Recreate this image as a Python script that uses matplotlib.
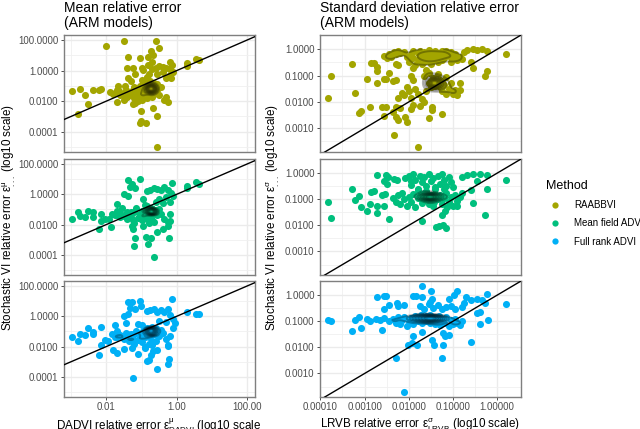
import matplotlib
matplotlib.use('Agg')
import matplotlib.pyplot as plt
from matplotlib.lines import Line2D
from matplotlib.ticker import MaxNLocator, NullFormatter
import numpy as np

plt.rcParams['font.family'] = ['Liberation Sans', 'DejaVu Sans']
plt.rcParams['mathtext.fontset'] = 'custom'
plt.rcParams['mathtext.rm'] = 'Liberation Sans'
plt.rcParams['mathtext.it'] = 'Liberation Sans'
plt.rcParams['mathtext.default'] = 'regular'

# Data, log10 of the errors
methods = ['RAABBVI', 'Mean field ADVI', 'Full rank ADVI']
colors = ['#A3A500', '#00BF7D', '#00B0F6']

mean_rbv_x = [-2.98, -2.76, -2.61, -2.51, -2.80, -2.39, -2.20, -2.15, -2.01, -1.50, -0.60, -0.51, -1.37, -1.04, -0.73, -0.68, -0.82, -0.71, -0.81, -1.40, -1.25, -1.18, -1.37, -1.31, -0.95, -1.00, -0.19, -0.12, 0.30, 0.30, 0.54, 0.64, -0.57, -1.01, -1.02, -1.04, -0.87, -0.55, -1.71, -1.66, -1.47, -1.18, -0.66, -0.24, -1.23, -1.47,
              -1.90, -1.80, -1.70, -1.60, -1.50, -1.40, -1.50, -1.30, -1.20, -1.10, -1.00, -1.20, -1.10, -1.05, -0.95, -0.85, -0.80, -0.75, -0.70, -0.65, -0.75, -0.85, -0.65, -0.60, -0.55, -0.55, -0.50, -0.45, -0.70, -0.85, -0.95, -1.05, -0.90, -0.75, -0.65, -0.80, -0.70, -0.60, -0.85, -0.65, -0.75, -0.30, -0.35, -0.80, -0.70, -0.60, -0.50, -0.40, -0.30, -0.20, -0.10, -0.20, -0.40, -0.55, -0.30, -0.15, -0.85, -1.00,
              -0.78, -0.76, -0.74, -0.72, -0.70, -0.68, -0.80, -0.75, -0.72, -0.66, -0.82, -0.77, -0.73, -0.69, -0.64, -0.62, -0.84, -0.79, -0.71, -0.67, -1.75, -1.65, -1.55, -1.45, -1.35, -1.25, -1.15, -1.05, -0.95, -0.90]
mean_rbv_y = [-1.32, -1.23, -1.62, -2.19, -2.87, -1.28, -1.28, -1.21, 1.61, 1.96, 1.96, 1.45, 0.89, 0.84, 1.30, 1.02, 0.86, 0.58, 0.36, 0.14, 0.19, -0.23, -0.51, -0.69, 0.03, 0.14, 0.58, 0.36, 0.52, 0.32, 0.78, 0.69, -2.96, -2.65, -3.28, -3.41, -3.46, -4.99, -2.08, -0.99, -1.01, -2.15, -2.48, -2.04, -2.19, -1.82,
              -1.40, -1.50, -1.30, -1.60, -1.50, -1.70, -1.90, -1.40, -1.80, -2.00, -1.90, -1.10, -1.40, -1.00, -1.30, -1.10, -1.40, -1.00, -1.20, -1.50, -0.70, -0.50, -0.80, -1.10, -1.30, -0.90, -1.60, -1.10, -1.70, -1.80, -1.60, -1.60, -0.90, -1.30, -1.00, -1.20, -1.40, -1.30, -1.30, -1.20, -1.10, -1.70, -1.90, -0.20, 0.10, 0.20, 0.30, 0.25, 0.15, 0.10, -0.10, -0.30, -0.10, -0.20, -0.50, -0.50, -0.40, -0.60,
              -1.20, -1.10, -1.25, -1.15, -1.05, -1.30, -1.00, -1.35, -0.95, -1.15, -1.25, -1.05, -1.40, -1.20, -1.10, -1.30, -1.15, -1.30, -1.00, -1.35, -1.45, -1.35, -1.55, -1.25, -1.60, -1.30, -1.65, -1.20, -1.55, -1.45]

mean_mf_x = [-2.98, -2.80, -2.76, -2.61, -2.51, -2.39, -2.38, -2.15, -2.14, -2.04, -1.93, -1.88, -2.20, -1.37, -1.04, -1.26, -1.33, -1.18, -1.49, -1.37, -0.12, 0.30, 0.30, 0.54, 0.64, -1.71, -1.18, -1.21, -0.87, -0.74, -0.82, -0.65, -0.22, -0.55, -0.38, -0.24, -0.19, -0.19, -1.23, -1.28,
             -1.85, -1.75, -1.70, -1.60, -1.55, -1.45, -1.40, -1.30, -1.25, -1.15, -1.05, -1.20, -1.05, -1.00, -0.95, -0.90, -0.85, -0.80, -0.75, -0.75, -0.70, -0.70, -0.65, -0.60, -0.55, -0.85, -0.65, -0.50, -0.45, -0.95, -0.80, -0.70, -0.75, -0.65, -0.80, -0.70, -0.60, -0.72, -0.78, -0.68, -0.35, -0.25, -0.95, -0.85, -0.75, -0.65, -0.55, -0.45, -0.35, -0.25, -0.15, -0.10, -0.30, -0.50, -0.20, -0.40, -0.60, -0.90,
             -0.78, -0.76, -0.74, -0.72, -0.70, -0.68, -0.80, -0.75, -0.72, -0.66, -0.82, -0.77, -0.73, -0.69, -0.64, -0.62, -0.84, -0.79, -0.71, -0.67, -1.70, -1.60, -1.50, -1.40, -1.30, -1.20, -1.10, -1.00, -0.95, -0.90]
mean_mf_y = [-1.62, -1.17, -1.43, -1.47, -1.10, -1.17, -1.47, -1.32, -1.76, -1.60, -1.60, -2.19, -2.26, 0.93, 1.00, 0.71, 0.49, 0.43, 0.03, -0.12, 0.73, 0.58, 0.43, 0.80, 0.69, -0.62, -2.91, -3.39, -2.80, -2.91, -3.31, -4.11, -2.91, -2.52, -2.30, -2.08, -1.76, -1.32, -2.26, -2.08,
             -1.30, -1.40, -1.10, -1.50, -0.90, -1.30, -1.60, -1.20, -1.70, -0.90, -1.50, -1.90, -1.30, -1.70, -1.10, -1.40, -0.80, -1.20, -0.90, -1.20, -1.00, -1.30, -1.10, -1.20, -1.40, -1.60, -1.80, -1.00, -1.30, -2.10, -1.90, -1.70, -1.05, -1.15, -1.10, -1.20, -1.05, -1.15, -1.00, -1.25, -1.60, -1.80, -0.30, 0.20, 0.30, 0.40, 0.35, 0.30, 0.45, 0.30, 0.10, -0.10, -0.20, -0.30, -0.50, -0.60, -0.50, -0.70,
             -1.15, -1.05, -1.20, -1.10, -1.00, -1.25, -0.95, -1.30, -0.90, -1.10, -1.20, -1.00, -1.35, -1.15, -1.05, -1.25, -1.10, -1.25, -0.95, -1.30, -1.35, -1.25, -1.45, -1.15, -1.50, -1.20, -1.55, -1.10, -1.45, -1.35]

mean_fr_x = [-2.98, -2.76, -2.80, -2.61, -2.51, -2.39, -2.37, -2.15, -2.14, -2.21, -2.03, -1.94, -1.81, -1.70, -1.49, -1.75, -1.37, -1.26, -1.33, -1.18, -1.04, -1.02, -1.49, -1.37, -1.43, -0.12, 0.30, 0.54, 0.64, -1.10, -0.80, -0.85, -0.74, -0.55, -1.23, -0.24, -0.23, -0.57, -0.24, -0.19, -0.66, -0.90, -1.28, -0.06, -0.11,
             -1.85, -1.75, -1.70, -1.60, -1.50, -1.45, -1.35, -1.30, -1.25, -1.15, -1.05, -1.20, -1.05, -1.00, -0.95, -0.90, -0.85, -0.80, -0.75, -0.70, -0.65, -0.60, -0.55, -0.75, -0.72, -0.68, -0.62, -0.80, -0.70, -0.50, -0.45, -0.40, -0.90, -0.80, -0.70, -0.60, -0.30, -0.25, -0.85, -0.75, -0.65, -0.55, -0.45, -0.35, -0.25, -0.20, -0.10, -0.30, -0.50, -1.00, -1.10,
             -0.78, -0.76, -0.74, -0.72, -0.70, -0.68, -0.80, -0.75, -0.72, -0.66, -0.82, -0.77, -0.73, -0.69, -0.64, -0.62, -0.84, -0.79, -0.71, -0.67, -1.70, -1.60, -1.50, -1.40, -1.30, -1.20, -1.10, -1.00, -0.95, -0.90]
mean_fr_y = [-1.37, -1.15, -1.65, -1.24, -0.76, -1.02, -1.15, -0.74, -1.87, -2.57, -1.54, -1.65, -2.20, -2.42, -2.14, -0.58, 0.97, 0.93, 0.53, 0.47, 1.04, 0.71, 0.03, 0.14, -0.45, 1.17, 0.25, 0.16, 0.14, -2.46, -2.90, -2.97, -2.53, -3.49, -4.08, -3.14, -2.79, -2.20, -1.98, -1.33, -2.31, -2.09, -2.09, -0.45, -0.77,
             -1.20, -1.40, -1.00, -1.30, -1.50, -1.10, -1.60, -1.20, -1.50, -1.00, -1.40, -1.80, -1.20, -1.70, -1.00, -1.30, -0.80, -1.10, -0.90, -0.70, -1.20, -0.80, -1.00, -0.85, -0.95, -0.90, -0.75, -1.40, -1.60, -1.30, -0.90, -1.10, -2.00, -1.80, -1.90, -1.60, -1.50, -1.90, 0.35, 0.40, 0.45, 0.30, 0.40, 0.25, 0.45, 0.10, -0.20, -0.40, -0.30, -0.60, -0.50,
             -1.05, -0.95, -1.10, -1.00, -0.90, -1.15, -0.85, -1.20, -0.80, -1.00, -1.10, -0.90, -1.25, -1.05, -0.95, -1.15, -1.00, -1.15, -0.85, -1.20, -1.35, -1.25, -1.45, -1.15, -1.50, -1.20, -1.55, -1.10, -1.45, -1.35]

sd_rbv_x = [-3.82, -3.76, -3.29, -3.21, -3.13, -3.08, -2.88, -2.94, -2.71, -2.56, -2.51, -2.45, -2.35, -2.30, -2.86, -2.79, -2.73, -2.71, -2.61, -2.51, -2.57, -2.33, -1.79, -2.29, -2.35, -2.29, -2.24, -2.08, -2.05, -2.21, -1.54, -1.25, -1.48, -1.47, -0.27, -0.24, -0.54, -0.60, 0.20, -0.22, -0.35, -0.46, -0.54, -0.69, -0.76, -0.84, -0.80, -0.92,
            -2.55, -2.50, -2.45, -2.40, -2.33, -2.30, -2.25, -2.20, -2.30, -2.25, -2.10, -2.05, -2.00, -1.95, -1.90, -1.90, -1.85, -1.80, -1.80, -1.75, -1.75, -1.70, -1.65, -1.65, -1.60, -1.60, -1.55, -1.55, -1.50, -1.50, -1.45, -1.45, -1.40, -1.40, -1.35, -1.35, -1.30, -1.25, -1.25, -1.20, -1.20, -1.15, -1.10, -1.05, -1.05, -1.00, -0.95, -1.90, -1.60,
            -1.95, -1.90, -2.05, -2.15, -2.25, -2.10, -2.00, -1.95, -1.85, -1.80, -1.75, -1.70, -1.65, -1.90, -1.95, -1.60, -1.55, -1.50, -1.50, -1.45, -1.45, -1.42, -1.40, -1.38, -1.35, -1.35, -1.30, -1.30, -1.25, -1.25, -1.20, -1.15, -1.15, -1.10, -1.05, -1.00, -0.95, -0.90, -0.85, -0.85, -1.55, -1.65,
            -1.52, -1.48, -1.46, -1.44, -1.42, -1.40, -1.38, -1.36, -1.50, -1.45, -1.40, -1.35]
sd_rbv_y = [-1.84, -1.00, -0.56, -1.67, -2.41, -2.34, -2.20, -1.14, -1.29, -1.13, -1.13, -0.89, -1.20, -1.16, -0.51, -0.53, -0.66, -0.82, -2.20, -2.20, -2.52, -3.24, -3.70, -2.20, -2.37, -2.56, -2.68, -2.56, -2.75, -2.24, -2.61, -2.47, -2.20, -2.30, -1.00, -0.81, -0.72, -0.48, -0.20, -0.06, 0.00, -0.03, 0.00, -0.03, -0.09, -0.28, -0.38, -0.41,
            -0.27, -0.35, -0.20, -0.30, -0.10, -0.20, -0.05, -0.15, -0.55, -0.60, -0.10, -0.30, -0.50, -0.20, -0.05, -0.35, -0.60, -0.15, -0.40, -0.05, -0.28, -0.55, -0.10, -0.35, -0.20, -0.45, -0.02, -0.30, -0.12, -0.55, -0.25, -0.40, -0.05, -0.32, -0.15, -0.50, -0.25, -0.08, -0.42, -0.18, -0.33, -0.05, -0.25, -0.12, -0.50, -0.35, -0.20, -0.72, -0.78,
            -1.00, -1.15, -1.45, -1.65, -1.85, -1.75, -1.60, -1.85, -1.50, -1.70, -2.15, -1.90, -2.00, -2.10, -2.25, -1.60, -1.30, -1.20, -1.45, -1.30, -1.10, -1.25, -1.40, -1.20, -1.30, -0.95, -1.45, -1.15, -1.25, -1.60, -1.35, -1.05, -1.70, -1.50, -1.30, -1.70, -1.55, -1.75, -1.30, -1.55, -0.90, -1.00,
            -1.30, -1.25, -1.35, -1.28, -1.22, -1.32, -1.27, -1.35, -1.20, -1.38, -1.30, -1.24]

sd_mf_x = [-3.82, -3.76, -3.29, -3.21, -3.13, -3.07, -2.94, -2.88, -2.71, -2.71, -2.56, -2.45, -2.86, -2.79, -2.61, -2.54, -2.71, -2.51, -2.46, -2.57, -2.50, -2.33, -2.26, -2.08, -1.71, -1.39, -1.32, -1.23, -1.16, -0.28, -0.54, -0.24, 0.20, -0.60, -1.25, -1.18, -1.13, -0.92, -0.80, -0.69, -0.54, -0.39, -0.22, -0.46,
           -2.00, -1.95, -1.90, -1.85, -1.80, -1.75, -1.70, -1.65, -1.60, -1.55, -1.50, -1.45, -1.40, -1.35, -1.30, -1.25, -1.20, -1.15, -1.10, -1.05, -1.00, -1.80, -1.60, -1.40, -1.20, -1.95,
           -2.35, -2.30, -2.25, -2.20, -2.15, -2.10, -2.05, -2.00, -1.95, -1.90, -1.85, -1.80, -1.75, -1.70, -1.65, -1.62, -1.60, -1.58, -1.55, -1.52, -1.50, -1.48, -1.45, -1.42, -1.40, -1.35, -1.30, -1.25, -1.20, -1.15, -1.10, -1.05, -1.00, -0.95, -0.90, -0.85, -0.80, -1.55, -1.65, -1.45,
           -1.60, -1.56, -1.54, -1.52, -1.50, -1.48, -1.46, -1.44, -1.58, -1.53, -1.47, -1.42, -1.75, -1.70, -1.65, -1.35, -1.30, -1.25]
sd_mf_y = [-1.10, -1.70, -0.61, -1.03, -0.89, -1.28, -1.44, -1.19, -1.52, -1.25, -1.25, -1.75, -0.71, -0.70, -0.84, -0.81, -0.09, -0.06, -0.15, -0.30, -0.43, -0.24, -0.28, -0.18, -1.85, -2.05, -2.04, -2.00, -2.10, -1.61, -1.13, -0.59, -0.28, -0.66, -1.59, -1.44, -1.29, -1.25, -0.15, -0.08, -0.03, -0.03, -0.08, -0.30,
           -0.10, -0.45, -0.05, -0.25, -0.60, -0.10, -0.35, -0.15, -0.50, -0.05, -0.30, -0.20, -0.55, -0.10, -0.40, -0.05, -0.25, -0.50, -0.15, -0.35, -0.55, -0.65, -0.68, -0.62, -0.60, -0.30,
           -0.95, -1.10, -0.85, -1.20, -0.75, -1.00, -1.25, -0.90, -1.10, -0.80, -1.30, -0.95, -0.85, -1.15, -0.90, -1.00, -0.80, -0.95, -1.05, -0.90, -1.00, -0.85, -0.95, -1.10, -0.80, -1.00, -0.85, -1.20, -0.95, -0.75, -1.10, -0.90, -1.25, -0.85, -1.05, -0.90, -0.75, -1.20, -0.75, -1.25,
           -0.92, -0.88, -0.95, -0.90, -0.85, -0.93, -0.87, -0.96, -0.84, -0.98, -0.91, -0.86, -0.95, -0.88, -0.92, -0.95, -0.88, -0.92]

sd_fr_x = [-3.82, -3.76, -3.29, -3.21, -3.13, -3.08, -2.94, -2.88, -2.71, -2.56, -2.51, -2.45, -2.56, -2.60, -2.27, -2.24, -2.10, -2.29, -2.10, -1.69, -1.90, -1.84, -1.71, -1.50, -1.47, -1.52, -1.09, -0.98, -0.92, -0.71, -0.60, -0.46, -0.35, -0.24, -0.27, 0.20, -0.40, -0.46, -0.21, -0.40, -0.60, -1.25, -1.23, -1.47, -1.44, -1.81, -2.01, -1.93, -1.90, -1.08, -1.19, -1.22, -1.71, -0.75, -0.80,
           -2.75, -2.65, -2.55, -2.45, -2.35, -2.30, -2.25, -2.20, -2.15, -2.10, -2.05, -2.00, -1.95, -1.90, -1.85, -1.80, -1.75, -1.72, -1.70, -1.68, -1.65, -1.62, -1.60, -1.58, -1.55, -1.53, -1.52, -1.50, -1.48, -1.46, -1.45, -1.42, -1.40, -1.38, -1.35, -1.32, -1.30, -1.25, -1.20, -1.15, -1.10, -1.05, -1.00, -0.95, -0.90, -0.85, -0.80, -1.75, -1.65, -1.55, -1.45, -1.35, -1.25, -1.15, -1.05, -0.95,
           -1.95, -1.90, -1.85, -1.80, -1.75, -1.70, -1.65, -1.60, -1.55, -1.50, -1.45, -1.40, -1.35, -1.30, -1.25, -1.20]
sd_fr_y = [-0.95, -1.01, -1.39, -0.95, -0.85, -1.24, -0.92, -1.01, -0.09, -0.04, -0.04, -0.37, -0.54, -1.34, -0.32, -0.42, -0.37, -2.39, -3.70, 0.34, -0.03, -0.04, -0.09, 0.16, -0.13, -0.25, -0.13, -0.01, 0.15, -0.06, -0.19, -0.13, -0.19, 0.06, -0.32, -0.35, -0.63, -0.67, -0.95, -1.10, -1.81, -2.39, -1.90, -1.73, -1.90, -1.90, -1.90, -1.84, -1.56, -1.54, -1.58, -1.46, -1.43, -0.32, -0.44,
           -0.90, -0.95, -0.88, -1.00, -0.92, -1.05, -0.85, -1.10, -0.95, -0.82, -1.20, -1.00, -0.88, -1.10, -0.80, -1.00, -0.90, -0.75, -1.05, -0.85, -0.95, -0.80, -1.00, -0.90, -0.85, -1.05, -0.78, -0.95, -0.88, -1.00, -0.82, -0.92, -1.10, -0.85, -0.98, -0.80, -1.15, -0.90, -1.05, -0.85, -1.20, -0.95, -1.10, -0.90, -1.05, -1.15, -1.00, -0.40, -0.55, -0.35, -0.50, -0.38, -0.52, -0.45, -0.42, -0.55,
           -0.88, -0.92, -0.86, -0.90, -0.84, -0.94, -0.87, -0.91, -0.85, -0.93, -0.89, -0.86, -0.92, -0.88, -0.94, -0.90]

panels = [
    [(mean_rbv_x, mean_rbv_y), (mean_mf_x, mean_mf_y), (mean_fr_x, mean_fr_y)],
    [(sd_rbv_x, sd_rbv_y), (sd_mf_x, sd_mf_y), (sd_fr_x, sd_fr_y)],
]
titles = ['Mean relative error\n(ARM models)', 'Standard deviation relative error\n(ARM models)']
xlabels = [r'DADVI relative error $\varepsilon^{\mu}_{DADVI}$ (log10 scale',
           r'LRVB relative error $\varepsilon^{\sigma}_{LRVB}$ (log10 scale)']
ylabels = [r'Stochastic VI relative error $\varepsilon^{\mu}_{...}$ (log10 scale)',
           r'Stochastic VI relative error $\varepsilon^{\sigma}_{...}$ (log10 scale)']
x_breaks = [[-2, 0, 2], [-4, -3, -2, -1, 0]]
y_breaks = [[-4, -2, 0, 2], [-3, -2, -1, 0]]
x_labels = [['0.01', '1.00', '100.00'], ['0.00010', '0.00100', '0.01000', '0.10000', '1.00000']]
y_labels = [['0.0001', '0.0100', '1.0000', '100.0000'], ['0.0010', '0.0100', '0.1000', '1.0000']]
x_lims = [(-3.216, 2.21), (-4.02, 0.527)]
y_lims = [(-5.33, 2.33), (-3.9, 0.54)]
x_minor = [[-3, -1, 1], [-3.5, -2.5, -1.5, -0.5]]
y_minor = [[-5, -3, -1, 1], [-3.5, -2.5, -1.5, -0.5]]


def density(x, y):
    # same idea as geom_density_2d: gaussian kde, narrower bandwidth to get the tight outlines
    def bw(v):
        iqr = np.subtract(*np.percentile(v, [75, 25]))
        return 0.5 * min(v.std(ddof=1), iqr / 1.34) * len(v) ** -0.2

    gx = np.linspace(x.min(), x.max(), 120)
    gy = np.linspace(y.min(), y.max(), 120)
    hx, hy = bw(x), bw(y)
    kx = np.exp(-0.5 * ((gx[:, None] - x) / hx) ** 2) / hx
    ky = np.exp(-0.5 * ((gy[:, None] - y) / hy) ** 2) / hy
    z = ky @ kx.T / (2 * np.pi * len(x))
    return gx, gy, z


fig = plt.figure(figsize=(6.4, 4.29), dpi=100)
W, H = 640, 429
col_px = [(63.5, 254.5), (319.5, 520.5)]
row_px = [(35, 152), (159, 275), (281, 397)]
ylab_px = [9, 273]

for c in range(2):
    for r in range(3):
        x0, x1 = col_px[c]
        y0, y1 = row_px[r]
        ax = fig.add_axes([x0 / W, 1 - y1 / H, (x1 - x0) / W, (y1 - y0) / H])
        px = np.array(panels[c][r][0])
        py = np.array(panels[c][r][1])
        ax.set_xscale('log')
        ax.set_yscale('log')
        ax.scatter(10.0 ** px, 10.0 ** py, s=26, color=colors[r], linewidths=0, zorder=3)
        gx, gy, z = density(px, py)
        levels = np.linspace(0, z.max(), 11)[2:-1]
        ax.contour(10.0 ** gx, 10.0 ** gy, z, levels=levels, colors='black', alpha=0.3,
                   linewidths=1.4, zorder=4)
        lim = np.array([-6.0, 3.0])
        ax.plot(10.0 ** lim, 10.0 ** lim, color='black', lw=1.0, zorder=5)
        ax.set_xlim(10.0 ** x_lims[c][0], 10.0 ** x_lims[c][1])
        ax.set_ylim(10.0 ** y_lims[c][0], 10.0 ** y_lims[c][1])

        ax.set_xticks(10.0 ** np.array(x_breaks[c]))
        ax.set_yticks(10.0 ** np.array(y_breaks[c]))
        ax.set_yticklabels(y_labels[c])
        ax.set_xticks(10.0 ** np.array(x_minor[c]), minor=True)
        ax.set_yticks(10.0 ** np.array(y_minor[c]), minor=True)
        ax.xaxis.set_minor_formatter(NullFormatter())
        ax.yaxis.set_minor_formatter(NullFormatter())
        ax.grid(which='major', color='#EBEBEB', lw=1.0, zorder=0)
        ax.grid(which='minor', color='#F0F0F0', lw=0.6, zorder=0)
        ax.set_axisbelow(True)
        ax.tick_params(which='minor', length=0)
        ax.tick_params(which='major', length=2.2, width=0.7, color='#4D4D4D',
                       labelsize=7, labelcolor='#4D4D4D', pad=1.5)
        for s in ax.spines.values():
            s.set_color('#7F7F7F')
            s.set_linewidth(1.0)
        if r == 2:
            ax.set_xticklabels(x_labels[c])
            ax.set_xlabel(xlabels[c], fontsize=8.4, labelpad=3)
        else:
            ax.tick_params(axis='x', which='major', labelbottom=False, length=0)
        if r == 0:
            ax.set_title(titles[c], fontsize=10, loc='left', pad=6, linespacing=1.1)
    fig.text(ylab_px[c] / W, 1 - 217 / H, ylabels[c], rotation=90, fontsize=8.4, ha='center', va='center')

handles = [Line2D([], [], ls='', marker='o', ms=4.5, color=col, mew=0) for col in colors]
fig.legend(handles, methods, title='Method', loc='upper left', bbox_to_anchor=(538 / W, 1 - 172 / H),
           frameon=False, fontsize=7, title_fontsize=9, labelspacing=0.85, handletextpad=0.9,
           alignment='left', borderpad=0.3)

fig.savefig('out.png', dpi=100)
